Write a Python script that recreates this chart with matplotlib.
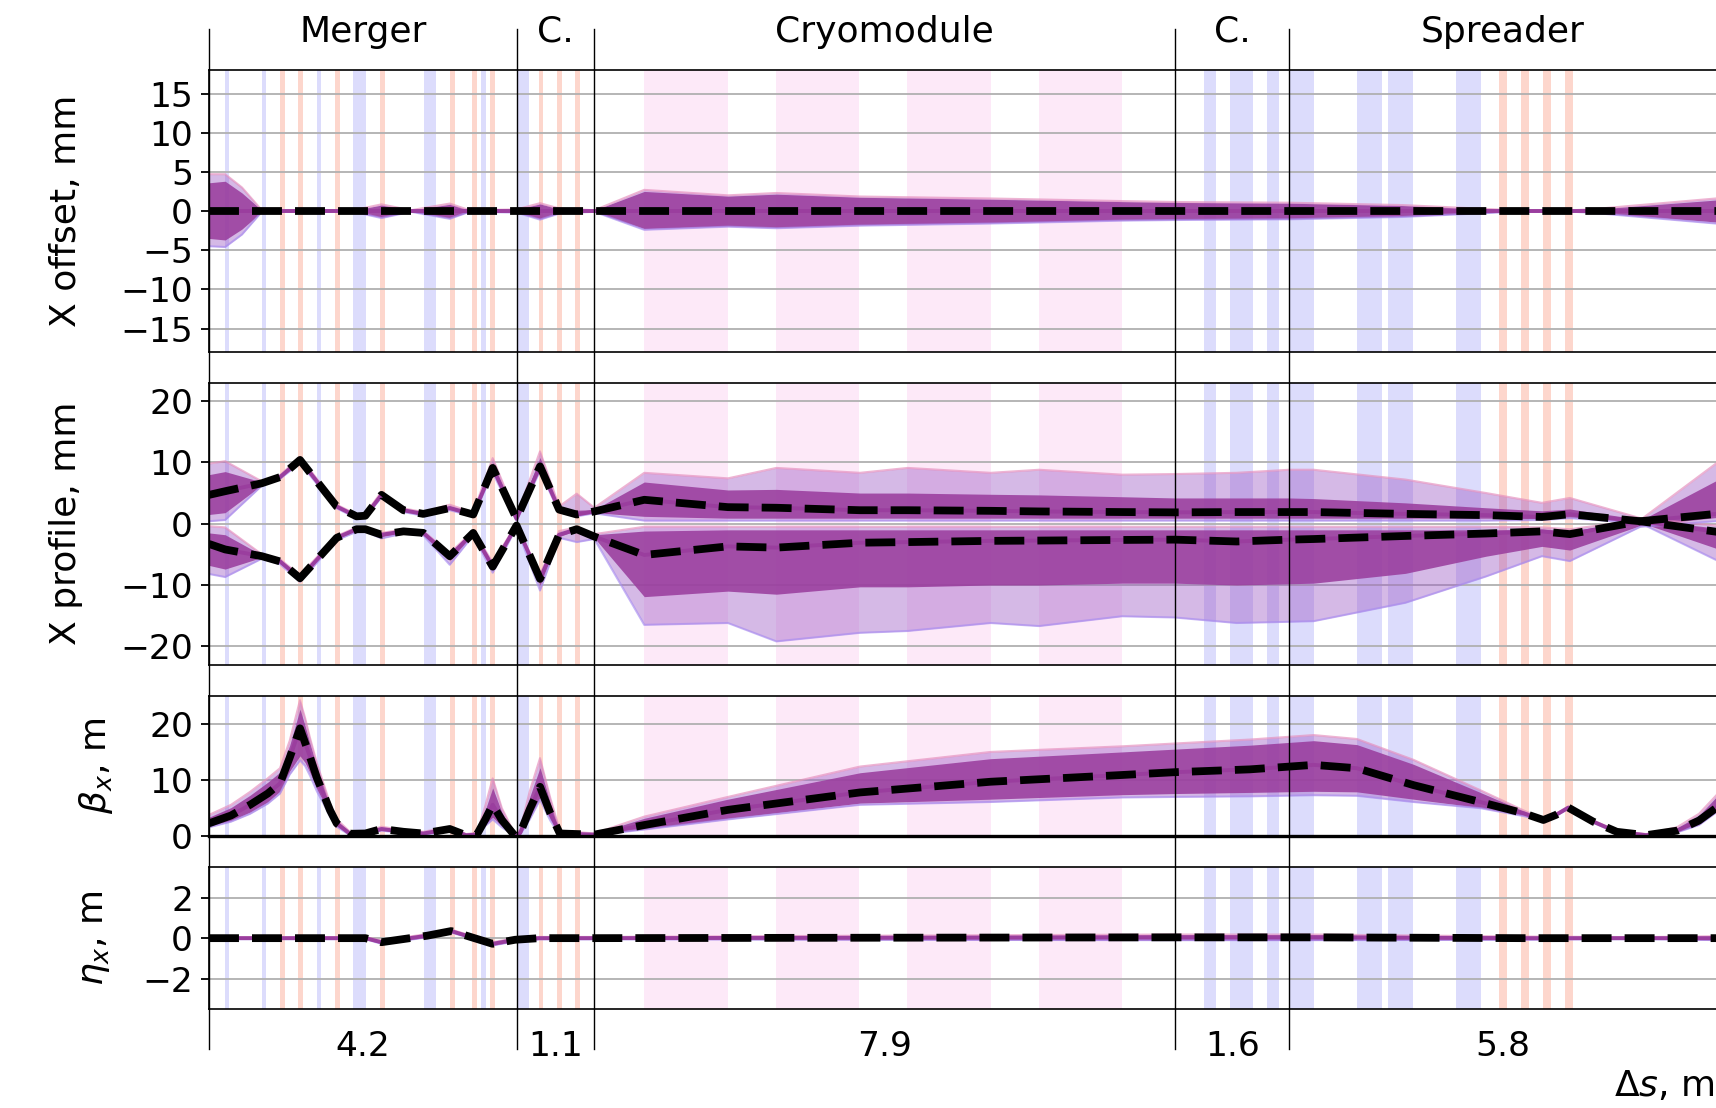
import matplotlib
matplotlib.use("Agg")
import matplotlib.pyplot as plt
from matplotlib.lines import Line2D
from matplotlib.transforms import blended_transform_factory

# ---------------------------------------------------------------- lattice
section_names = ["Merger", "C.", "Cryomodule", "C.", "Spreader"]
section_edges = [0.0, 4.19, 5.25, 13.16, 14.72, 20.53]
s_max = 20.65

# element footprints along the beamline (start, end) in m
quad_bands = [(0.218, 0.277), (0.718, 0.772), (1.467, 1.526), (1.966, 2.135),
              (2.929, 3.093), (3.706, 3.770), (4.190, 4.356), (13.558, 13.720),
              (13.911, 14.222), (14.409, 14.576), (14.720, 15.048),
              (15.634, 15.982), (16.061, 16.410), (16.990, 17.335)]
dipole_bands = [(0.967, 1.035), (1.217, 1.281), (1.717, 1.781), (2.330, 2.394),
                (3.283, 3.347), (3.588, 3.651), (3.828, 3.896), (4.490, 4.555),
                (4.741, 4.810), (4.990, 5.059), (17.571, 17.690),
                (17.872, 17.990), (18.176, 18.289), (18.477, 18.590)]
cavity_bands = [(5.925, 7.068), (7.725, 8.856), (9.516, 10.654), (11.308, 12.439)]

# ---------------------------------------------------------------- X offset, mm
s_off = [0.0, 0.22, 0.45, 0.72, 1.97, 2.35, 2.75, 3.28, 3.55, 4.19, 4.51, 4.78,
         5.25, 5.93, 7.07, 7.73, 8.87, 10.65, 12.44, 13.16, 14.72, 16.26, 17.55,
         18.0, 18.6, 18.87, 20.53, 20.65]
off_mean = [0.0, 0.0, 0.0, 0.0, 0.0, 0.0, 0.0, 0.0, 0.0, 0.0, 0.0, 0.0, 0.0, 0.0,
            0.0, 0.0, 0.0, 0.0, 0.0, 0.0, 0.0, 0.0, 0.0, 0.0, 0.0, 0.0, 0.0, 0.0]
off_hi = [4.7, 4.7, 3.0, 0.1, 0.1, 0.85, 0.1, 0.95, 0.1, 0.2, 1.0, 0.3, 0.1, 2.7,
          2.0, 2.3, 1.85, 1.6, 1.27, 1.15, 1.06, 0.76, 0.2, 0.1, 0.1, 0.25, 1.6, 1.8]
off_lo = [-4.5, -4.6, -3.0, -0.1, -0.1, -0.9, -0.1, -1.0, -0.1, -0.2, -1.1, -0.3,
          -0.1, -2.4, -2.0, -2.2, -1.87, -1.6, -1.23, -1.15, -1.06, -0.76, -0.2,
          -0.1, -0.1, -0.25, -1.6, -1.8]
off_core_hi = [3.6, 3.8, 2.3, 0.1, 0.1, 0.75, 0.1, 0.85, 0.1, 0.2, 0.9, 0.25, 0.1,
               2.5, 1.9, 2.15, 1.75, 1.5, 1.2, 1.1, 1.0, 0.7, 0.18, 0.1, 0.1, 0.22,
               1.4, 1.6]
off_core_lo = [-3.5, -3.7, -2.3, -0.1, -0.1, -0.8, -0.1, -0.9, -0.1, -0.2, -1.0,
               -0.25, -0.1, -2.25, -1.9, -2.1, -1.75, -1.5, -1.15, -1.1, -1.0, -0.7,
               -0.18, -0.1, -0.1, -0.22, -1.4, -1.6]

# ---------------------------------------------------------------- X profile, mm
s_prof = [0.0, 0.22, 0.72, 0.967, 1.24, 1.74, 2.01, 2.13, 2.35, 2.65, 2.92, 3.28,
          3.60, 3.865, 4.19, 4.51, 4.77, 5.01, 5.25, 5.93, 7.07, 7.73, 8.87, 9.52,
          10.65, 11.31, 12.44, 13.16, 14.0, 14.72, 15.05, 16.3, 17.4, 18.16, 18.54,
          19.5, 20.53, 20.65]
# upper edge of the beam
up_mean = [4.7, 5.3, 6.6, 7.6, 10.4, 2.8, 1.2, 1.3, 4.7, 2.2, 1.6, 2.55, 1.5, 9.1,
           0.8, 9.35, 2.3, 1.5, 2.0, 3.9, 2.7, 2.6, 2.2, 2.2, 2.1, 2.0, 1.9, 1.85,
           1.9, 1.9, 1.9, 1.6, 1.4, 1.1, 1.55, 0.4, -1.3, -1.5]
up_hi = [9.8, 10.2, 6.9, 7.9, 10.9, 3.1, 1.5, 1.6, 5.2, 2.5, 1.9, 3.1, 1.8, 10.7,
         1.2, 11.8, 2.8, 4.9, 2.6, 8.3, 7.4, 9.1, 8.3, 9.1, 8.3, 8.8, 8.0, 8.1, 8.3,
         8.8, 8.8, 7.2, 5.0, 3.4, 4.2, 0.9, -0.3, -0.4]
up_lo = [0.4, 0.6, 6.2, 7.3, 9.9, 2.5, 0.9, 1.0, 4.3, 1.9, 1.3, 2.2, 1.2, 8.3, 0.5,
         8.6, 1.9, 1.2, 1.7, 0.5, 0.5, 0.5, 0.5, 0.5, 0.5, 0.5, 0.5, 0.5, 0.5, 0.5,
         0.5, 0.5, 0.5, 0.6, 0.9, 0.1, -5.9, -6.4]
up_core_hi = [8.0, 8.5, 6.8, 7.8, 10.7, 3.0, 1.4, 1.5, 5.0, 2.4, 1.8, 2.9, 1.7,
              10.0, 1.1, 10.8, 2.6, 2.2, 2.3, 6.8, 5.5, 5.6, 5.0, 5.0, 4.8, 4.7,
              4.4, 4.2, 4.2, 4.2, 4.1, 3.4, 2.6, 2.1, 2.4, 0.7, -0.7, -0.8]
up_core_lo = [1.5, 1.8, 6.3, 7.4, 10.0, 2.6, 1.0, 1.1, 4.4, 2.0, 1.4, 2.3, 1.3, 8.6,
              0.6, 8.9, 2.0, 1.3, 1.8, 1.2, 0.9, 0.9, 0.9, 0.9, 0.9, 0.9, 0.9, 0.9,
              0.9, 0.9, 0.9, 0.9, 0.9, 0.8, 1.1, 0.2, -4.0, -4.4]
# lower edge of the beam
dn_mean = [-3.3, -4.2, -5.3, -6.15, -8.9, -2.3, -0.9, -0.9, -1.8, -1.25, -1.5, -5.3,
           -1.5, -7.0, -0.3, -9.0, -1.8, -0.9, -2.1, -5.1, -3.7, -3.9, -3.1, -3.0,
           -2.8, -2.75, -2.65, -2.6, -2.9, -2.6, -2.5, -2.0, -1.6, -1.25, -1.7, 0.4,
           1.6, 1.8]
dn_hi = [-0.4, -0.6, -5.0, -5.8, -8.4, -2.0, -0.6, -0.6, -1.5, -0.95, -1.2, -4.8,
         -1.2, -6.3, -0.1, -8.3, -1.2, -0.6, -1.7, -0.5, -0.5, -0.5, -0.5, -0.5,
         -0.5, -0.5, -0.5, -0.5, -0.5, -0.5, -0.5, -0.5, -0.5, -0.6, -0.9, 0.6,
         9.8, 10.6]
dn_lo = [-8.2, -8.7, -5.7, -6.6, -9.5, -2.7, -1.3, -1.3, -2.4, -1.6, -1.9, -6.7,
         -1.9, -8.0, -0.6, -10.9, -2.3, -3.0, -2.5, -16.5, -16.2, -19.2, -17.8,
         -17.5, -16.2, -16.7, -15.1, -15.3, -16.2, -16.0, -15.9, -12.9, -8.6, -5.3,
         -6.1, -0.5, 0.4, 0.5]
dn_core_hi = [-1.5, -1.8, -5.1, -5.9, -8.6, -2.1, -0.7, -0.7, -1.6, -1.05, -1.3,
              -5.0, -1.3, -6.6, -0.2, -8.6, -1.5, -0.7, -1.8, -1.2, -1.0, -1.0, -1.0,
              -1.0, -1.0, -1.0, -1.0, -1.0, -1.0, -1.0, -1.0, -1.0, -1.0, -0.9, -1.2,
              0.5, 7.0, 7.6]
dn_core_lo = [-6.8, -7.4, -5.5, -6.4, -9.2, -2.5, -1.1, -1.1, -2.1, -1.45, -1.7,
              -6.0, -1.7, -7.6, -0.4, -10.0, -2.1, -1.1, -2.3, -11.9, -11.0, -11.5,
              -10.3, -10.3, -10.0, -10.0, -9.7, -9.7, -10.0, -9.8, -9.7, -8.1, -5.3,
              -3.7, -4.3, -0.3, 1.0, 1.1]

# ---------------------------------------------------------------- beta_x, m
s_beta = [0.0, 0.30, 0.56, 0.80, 0.967, 1.10, 1.24, 1.31, 1.376, 1.47, 1.557, 1.65,
          1.74, 1.92, 2.13, 2.35, 2.65, 2.92, 3.28, 3.50, 3.65, 3.76, 3.865, 3.99,
          4.17, 4.24, 4.37, 4.51, 4.65, 4.78, 5.25, 5.93, 7.07, 8.87, 10.65, 12.44,
          13.16, 14.18, 15.05, 15.64, 16.41, 17.32, 17.91, 18.18, 18.35, 18.52,
          18.86, 19.18, 19.58, 20.0, 20.30, 20.53, 20.65]
beta_mean = [2.3, 3.7, 5.6, 7.6, 9.4, 14.0, 19.2, 16.6, 14.1, 10.4, 7.6, 4.6, 2.3,
             0.45, 0.5, 1.3, 0.8, 0.5, 1.3, 0.2, 0.3, 2.9, 5.6, 2.9, 0.05, 0.6, 4.8,
             8.8, 4.1, 0.5, 0.3, 2.0, 4.7, 7.8, 9.7, 10.9, 11.4, 11.9, 12.7, 12.1,
             9.1, 6.1, 4.1, 2.9, 3.8, 5.1, 2.6, 0.8, 0.2, 1.0, 2.8, 5.0, 6.5]
beta_hi = [3.8, 5.6, 7.9, 10.3, 12.1, 17.0, 24.2, 21.0, 17.5, 13.0, 9.5, 5.8, 3.0,
           0.8, 0.8, 1.7, 1.1, 0.8, 1.7, 0.4, 0.6, 5.2, 10.3, 5.0, 0.3, 1.2, 8.0,
           13.9, 6.8, 1.0, 0.5, 3.5, 7.0, 12.4, 15.0, 16.0, 16.5, 17.2, 18.0, 17.3,
           13.6, 8.2, 4.6, 3.1, 4.0, 5.3, 2.8, 1.0, 0.4, 1.6, 4.0, 7.2, 9.0]
beta_lo = [1.6, 2.6, 4.0, 5.8, 7.6, 11.0, 13.5, 12.5, 10.8, 8.0, 5.9, 3.5, 1.7, 0.2,
           0.3, 1.0, 0.6, 0.3, 1.0, 0.1, 0.1, 1.8, 3.0, 1.6, 0.0, 0.3, 3.0, 6.5, 2.8,
           0.2, 0.2, 1.2, 3.0, 5.6, 6.1, 6.9, 7.0, 7.1, 7.3, 7.2, 6.1, 5.0, 3.6, 2.7,
           3.6, 4.9, 2.4, 0.6, 0.1, 0.7, 2.0, 4.2, 5.5]
beta_core_hi = [3.4, 5.1, 7.3, 9.6, 11.4, 16.2, 22.6, 19.6, 16.5, 12.4, 9.1, 5.5,
                2.8, 0.7, 0.7, 1.6, 1.0, 0.7, 1.6, 0.35, 0.5, 4.5, 8.6, 4.3, 0.2, 1.0,
                7.0, 12.2, 6.0, 0.8, 0.45, 3.2, 6.6, 11.3, 13.8, 15.0, 15.5, 16.2,
                17.0, 16.3, 12.8, 7.8, 4.5, 3.0, 3.9, 5.2, 2.7, 0.9, 0.3, 1.5, 3.7,
                6.9, 8.6]
beta_core_lo = [1.8, 2.8, 4.3, 6.1, 8.0, 11.6, 14.3, 13.1, 11.3, 8.4, 6.2, 3.7, 1.8,
                0.3, 0.35, 1.1, 0.65, 0.35, 1.1, 0.1, 0.15, 2.0, 3.4, 1.8, 0.0, 0.35,
                3.3, 6.9, 3.0, 0.25, 0.2, 1.3, 3.2, 5.9, 6.6, 7.4, 7.6, 7.8, 8.0, 7.9,
                6.6, 5.1, 3.7, 2.75, 3.65, 4.95, 2.45, 0.65, 0.1, 0.75, 2.1, 4.4, 5.8]

# ---------------------------------------------------------------- eta_x, m
s_eta = [0.0, 2.13, 2.35, 2.97, 3.3, 3.5, 3.865, 4.17, 4.5, 5.25, 8.87, 13.16,
         15.05, 17.9, 19.5, 20.65]
eta_mean = [0.0, 0.0, -0.2, 0.12, 0.35, 0.13, -0.28, -0.08, 0.0, 0.0, 0.02, 0.04,
            0.04, 0.0, 0.0, 0.0]
eta_hi = [0.05, 0.05, -0.12, 0.2, 0.42, 0.2, -0.2, 0.0, 0.06, 0.06, 0.12, 0.18,
          0.18, 0.08, 0.05, 0.1]
eta_lo = [-0.05, -0.05, -0.28, 0.04, 0.28, 0.06, -0.36, -0.16, -0.06, -0.06, -0.08,
          -0.1, -0.1, -0.08, -0.05, -0.1]

# ---------------------------------------------------------------- styling
QUAD_C = "#dcdcfc"
DIPOLE_C = "#fdd6cc"
CAVITY_C = "#fde9f8"
CORE_C = "#9a3e9e"
CLOUD_C = "#9c58c4"
TXT = 26
TICK = 24.8

fig = plt.figure(figsize=(17.16, 11.08), dpi=100)
left, width = 0.12179, 0.88327
rects = [(0.68231, 0.25451), (0.40009, 0.25451), (0.24522, 0.12690),
         (0.08935, 0.12789)]
axes = [fig.add_axes([left, b, width, h]) for b, h in rects]


def decorate(ax, ylim, yticks):
    ax.set_xlim(0, s_max)
    ax.set_ylim(*ylim)
    ax.set_yticks(yticks)
    ax.set_axisbelow(True)
    ax.grid(axis="y", color="#b0b0b0", lw=1.3)
    ax.tick_params(axis="x", bottom=False, labelbottom=False)
    ax.tick_params(axis="y", labelsize=TICK, length=6, width=1.3, pad=5.5)
    for sp in ax.spines.values():
        sp.set_linewidth(1.2)
    for a, b in quad_bands:
        ax.axvspan(a, b, color=QUAD_C, lw=0, zorder=0.2)
    for a, b in dipole_bands:
        ax.axvspan(a, b, color=DIPOLE_C, lw=0, zorder=0.2)
    for a, b in cavity_bands:
        ax.axvspan(a, b, color=CAVITY_C, lw=0, zorder=0.2)


def spread(ax, s, mean, lo, hi, core_lo, core_hi):
    ax.fill_between(s, lo, hi, color=CLOUD_C, alpha=0.42, lw=0, zorder=2)
    ax.fill_between(s, core_lo, core_hi, color=CORE_C, alpha=0.88, lw=0, zorder=2.1)
    ax.plot(s, hi, color="#e48cbc", lw=1.5, alpha=0.65, zorder=2.2)
    ax.plot(s, lo, color="#a88cf0", lw=1.5, alpha=0.65, zorder=2.2)
    ax.plot(s, mean, color=CORE_C, lw=2.8, zorder=2.3)
    ax.plot(s, mean, color="black", lw=5.6, dashes=(3.85, 1.68), zorder=3)


ax1, ax2, ax3, ax4 = axes
decorate(ax1, (-18, 18), [-15, -10, -5, 0, 5, 10, 15])
decorate(ax2, (-23, 23), [-20, -10, 0, 10, 20])
decorate(ax3, (0, 25), [0, 10, 20])
decorate(ax4, (-3.5, 3.5), [-2, 0, 2])
ax3.spines["bottom"].set_linewidth(2.4)

spread(ax1, s_off, off_mean, off_lo, off_hi, off_core_lo, off_core_hi)
spread(ax2, s_prof, up_mean, up_lo, up_hi, up_core_lo, up_core_hi)
spread(ax2, s_prof, dn_mean, dn_lo, dn_hi, dn_core_lo, dn_core_hi)
spread(ax3, s_beta, beta_mean, beta_lo, beta_hi, beta_core_lo, beta_core_hi)
spread(ax4, s_eta, eta_mean, eta_lo, eta_hi, eta_lo, eta_hi)

# axis titles
ylabels = [("X offset, mm", 0.0385), ("X profile, mm", 0.0385),
           (r"$\beta_x$, m", 0.0559), (r"$\eta_x$, m", 0.0554)]
for (lab, x), (b, h) in zip(ylabels, rects):
    fig.text(x, b + h / 2, lab, rotation=90, ha="center", va="center", fontsize=TXT)

# section boundaries, names and lengths
trans = blended_transform_factory(ax1.transData, fig.transFigure)
for edge in section_edges[:-1]:
    fig.add_artist(Line2D([edge, edge], [0.05325, 0.97383], transform=trans,
                          color="black", lw=1.0, zorder=10))
for name, a, b in zip(section_names, section_edges[:-1], section_edges[1:]):
    mid = 0.5 * (a + b)
    fig.text(mid, 0.96237, name, transform=trans, ha="center", va="baseline",
             fontsize=TXT)
    fig.text(mid, 0.04693, f"{b - a:.1f}", transform=trans, ha="center",
             va="baseline", fontsize=TICK)

fig.text(0.9405, 0.0108, r"$\Delta s$, m", ha="left", va="baseline", fontsize=TXT)

fig.savefig("out.png", dpi=100)
